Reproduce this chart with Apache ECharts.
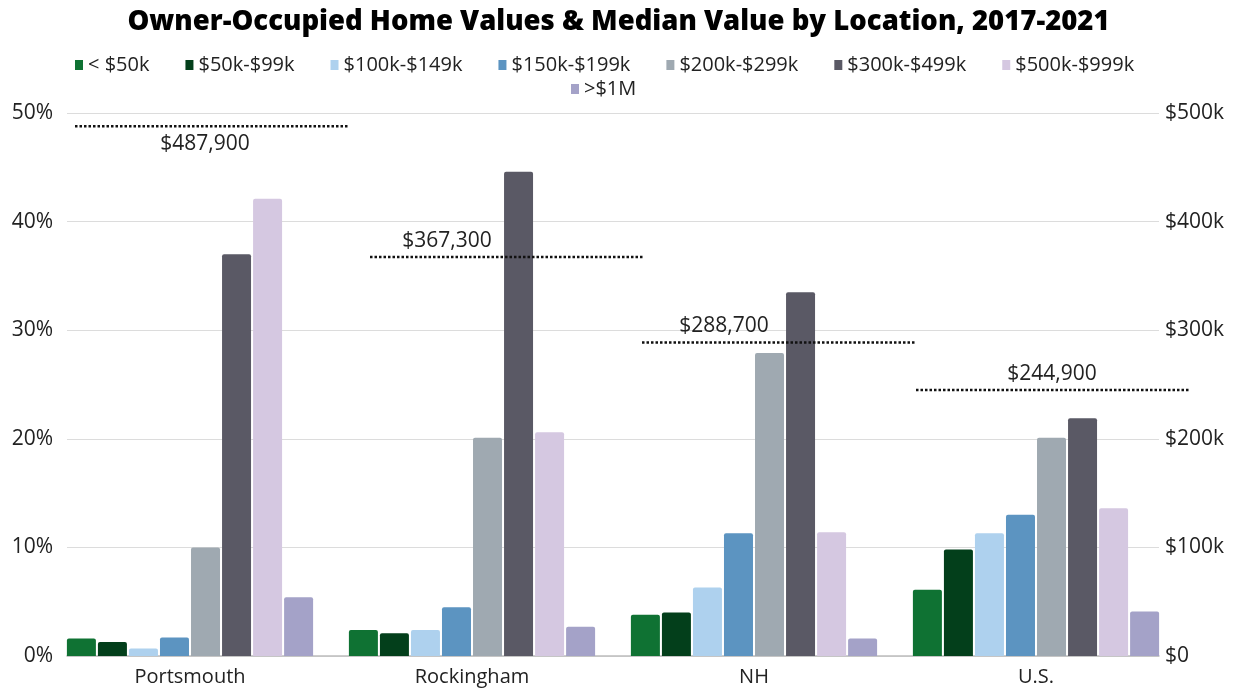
<!DOCTYPE html>
<html>
<head>
<meta charset="utf-8">
<title>Owner-Occupied Home Values</title>
<script src="https://cdn.jsdelivr.net/npm/echarts@6/dist/echarts.min.js"></script>
<style>
	html, body { margin: 0; padding: 0; background: #fff; }
	#chart { width: 1237px; height: 689px; }
</style>
</head>
<body>
<div id="chart"></div>
<script>
	// data
	var locations = ['Portsmouth', 'Rockingham', 'NH', 'U.S.']
	var bandNames = ['< $50k', '$50k-$99k', '$100k-$149k', '$150k-$199k', '$200k-$299k', '$300k-$499k', '$500k-$999k', '>$1M']
	var under50k = [1.6, 2.4, 3.8, 6.1]
	var k50to99 = [1.3, 2.1, 4.0, 9.8]
	var k100to149 = [0.7, 2.4, 6.3, 11.3]
	var k150to199 = [1.7, 4.5, 11.3, 13.0]
	var k200to299 = [10.0, 20.1, 27.9, 20.1]
	var k300to499 = [37.0, 44.6, 33.5, 21.9]
	var k500to999 = [42.1, 20.6, 11.4, 13.6]
	var over1m = [5.4, 2.7, 1.6, 4.1]
	var medianValue = [487900, 367300, 288700, 244900]
	var pctTicks = [0, 10, 20, 30, 40, 50]
	var dollarTicks = ['$0', '$100k', '$200k', '$300k', '$400k', '$500k']

	var bandValues = [under50k, k50to99, k100to149, k150to199, k200to299, k300to499, k500to999, over1m]
	var colors = ['#0f7233', '#033f1b', '#aed1ee', '#5c94c1', '#9fa9b1', '#5a5965', '#d5c8e1', '#a4a2c8']
	var textFont = "'Open Sans', sans-serif"

	var chart = echarts.init(document.getElementById('chart'))

	var series = bandNames.map(function (name, i) {
		return {
			name: name,
			type: 'bar',
			xAxisIndex: 0,
			yAxisIndex: 0,
			barWidth: 29,
			barGap: '7%',
			itemStyle: {
				color: colors[i],
				borderRadius: [2, 2, 0, 0]
			},
			data: bandValues[i]
		}
	})

	// where the dotted median line and its label sit, relative to the category centre
	var lineDx = [0, 13, 3, -5]
	var labelDx = [15, -25, -30, 16]
	series.push({
		name: 'Median',
		type: 'custom',
		xAxisIndex: 0,
		yAxisIndex: 1,
		z: 10,
		data: medianValue.map(function (v, i) { return [i, v] }),
		encode: { x: 0, y: 1 },
		renderItem: function (params, api) {
			var p = api.coord([api.value(0), api.value(1)])
			var idx = params.dataIndex
			var below = idx === 0
			var x0 = p[0] + lineDx[idx]
			return {
				type: 'group',
				children: [{
					type: 'line',
					shape: { x1: x0 - 115, y1: p[1], x2: x0 + 158, y2: p[1] },
					style: { stroke: '#111', lineWidth: 2.5, lineDash: [2.5, 2] }
				}, {
					type: 'text',
					x: p[0] + labelDx[idx],
					y: below ? p[1] + 7 : p[1] - 6,
					style: {
						text: '$' + echarts.format.addCommas(medianValue[idx]),
						fill: '#222',
						font: '21px ' + textFont,
						align: 'center',
						verticalAlign: below ? 'top' : 'bottom'
					}
				}]
			}
		}
	})

	chart.setOption({
		animation: false,
		title: {
			text: 'Owner-Occupied Home Values & Median Value by Location, 2017-2021',
			left: 'center',
			top: 3,
			textStyle: {
				fontFamily: textFont,
				fontWeight: 800,
				fontSize: 27.5,
				color: '#000'
			}
		},
		legend: [{
			data: bandNames.slice(0, 7),
			top: 50,
			left: 70,
			icon: 'rect',
			itemWidth: 8,
			itemHeight: 10,
			itemGap: 36,
			textStyle: { fontFamily: textFont, fontSize: 20, color: '#222' }
		}, {
			data: bandNames.slice(7),
			top: 74,
			left: 566,
			icon: 'rect',
			itemWidth: 8,
			itemHeight: 10,
			textStyle: { fontFamily: textFont, fontSize: 20, color: '#222' }
		}],
		grid: [
			{ left: 49, right: 60, top: 113, bottom: 33 },
			{ left: 67, right: 78, top: 113, bottom: 33 }
		],
		xAxis: [{
			type: 'category',
			gridIndex: 0,
			data: locations,
			axisLine: { show: false },
			axisTick: { show: false },
			axisLabel: { fontFamily: textFont, fontSize: 20, color: '#222', margin: 11 }
		}, {
			type: 'category',
			gridIndex: 1,
			data: locations,
			axisLine: { lineStyle: { color: '#bdbdbd', width: 1.5 } },
			axisTick: { show: false },
			axisLabel: { show: false }
		}],
		yAxis: [{
			type: 'value',
			gridIndex: 0,
			min: 0,
			max: 50,
			show: false
		}, {
			type: 'value',
			gridIndex: 0,
			min: 0,
			max: 500000,
			show: false
		}, {
			type: 'value',
			gridIndex: 1,
			position: 'left',
			min: 0,
			max: 50,
			interval: 10,
			axisLine: { show: false },
			axisTick: { show: false },
			splitLine: { lineStyle: { color: '#dcdcdc', width: 1.2 } },
			axisLabel: {
				fontFamily: textFont,
				fontSize: 21,
				color: '#222',
				margin: 14,
				formatter: function (v) { return pctTicks.indexOf(v) >= 0 ? v + '%' : '' }
			}
		}, {
			type: 'value',
			gridIndex: 1,
			position: 'right',
			min: 0,
			max: 50,
			interval: 10,
			axisLine: { show: false },
			axisTick: { show: false },
			splitLine: { show: false },
			axisLabel: {
				fontFamily: textFont,
				fontSize: 21,
				color: '#222',
				margin: 6,
				formatter: function (v) { return dollarTicks[pctTicks.indexOf(v)] }
			}
		}],
		series: series
	})
</script>
</body>
</html>
